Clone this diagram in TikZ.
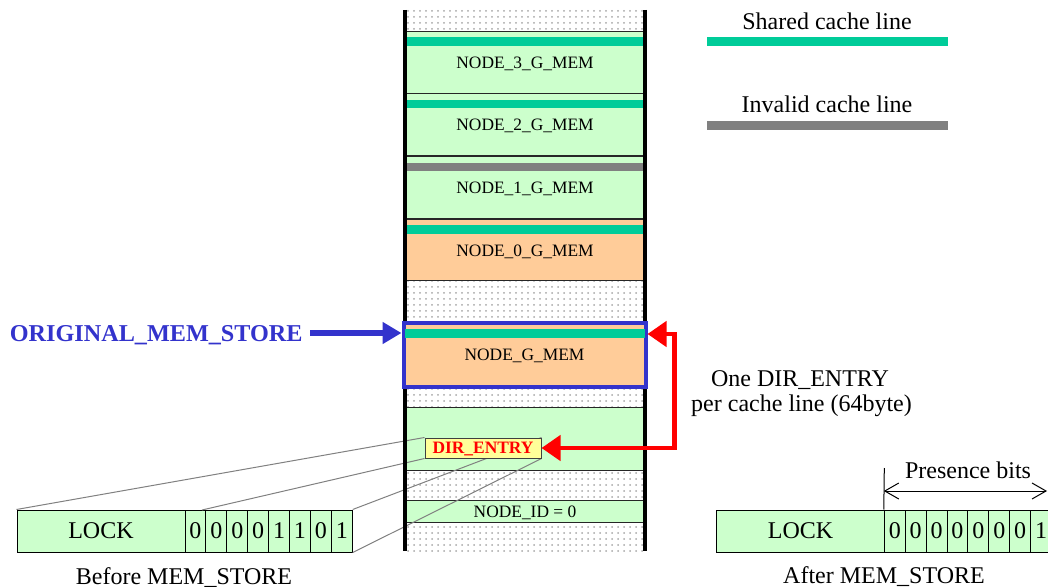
\documentclass[tikz,border=0pt]{standalone}
\usepackage{fontspec}
\setmainfont{Liberation Serif}
\usetikzlibrary{patterns,arrows.meta}
\definecolor{lgreen}{HTML}{CCFFCC}
\definecolor{peach}{HTML}{FFCC99}
\definecolor{shared}{HTML}{00CC99}
\definecolor{invalid}{HTML}{808080}
\definecolor{oblue}{HTML}{3333CC}
\definecolor{yel}{HTML}{FFFF99}
\definecolor{dirred}{HTML}{FF0000}
\begin{document}
\begin{tikzpicture}[x=0.5pt,y=-0.5pt,
  big/.style={font=\fontsize{12}{14}\selectfont},
  small/.style={font=\fontsize{8.7}{10}\selectfont},
  memblk/.style={draw=black!85, line width=0.5pt, minimum width=120pt, inner sep=0pt, text depth=0pt, small},
  cstrip/.style={fill=#1, draw=none, minimum width=120pt, inner sep=0pt},
  bit/.style={draw=black, line width=0.5pt, fill=lgreen, minimum width=10.45pt, minimum height=21pt, inner sep=0pt, big},
  lockbox/.style={draw=black, line width=0.5pt, fill=lgreen, minimum width=84pt, minimum height=21pt, inner sep=0pt, big},
  direntry/.style={draw=black!75, line width=0.5pt, fill=yel, minimum width=58pt, minimum height=10pt, inner sep=0pt, text depth=0pt, text=dirred, font=\fontsize{8.7}{10}\selectfont\bfseries},
  column/.style={line width=2pt, black},
  persp/.style={draw=invalid, line width=0.5pt},
  redarrow/.style={draw=dirred, line width=2.2pt, {Triangle[length=9.5pt,width=12.5pt]}-{Triangle[length=9.5pt,width=12.5pt]}},
  bluearrow/.style={draw=oblue, line width=2.6pt, -{Triangle[length=9.5pt,width=10.5pt]}},
  dimarrow/.style={draw=black, line width=0.5pt, {Straight Barb[length=7pt,width=8pt]}-{Straight Barb[length=7pt,width=8pt]}}
]
\useasboundingbox (0,0) rectangle (1048,587);
\clip (0,0) rectangle (1048,587);

% dotted background of the memory column
\fill[pattern=dots, pattern color=black!35] (405,10) rectangle (645,551);

% memory blocks
\node[memblk, fill=lgreen, minimum height=31.25pt] (n3) at (525,62.5) {NODE\_3\_G\_MEM};
\node[memblk, fill=lgreen, minimum height=31pt] (n2) at (525,125) {NODE\_2\_G\_MEM};
\node[memblk, fill=lgreen, minimum height=31pt] (n1) at (525,187.5) {NODE\_1\_G\_MEM};
\node[memblk, fill=peach, minimum height=30.75pt] (n0) at (525,250.25) {NODE\_0\_G\_MEM};
\node[memblk, fill=lgreen, minimum height=31.5pt] (dirarea) at (525,438.5) {};
\node[memblk, fill=lgreen, minimum height=11pt] (nodeid) at (525,511.5) {NODE\_ID = 0};

% cache line strips
\node[cstrip=shared, minimum height=4.5pt] (s3) at (525,41.5) {};
\node[cstrip=shared, minimum height=4pt] (s2) at (525,104) {};
\node[cstrip=invalid, minimum height=4pt] (s1) at (525,167) {};
\node[cstrip=shared, minimum height=4.5pt] (s0) at (525,229.5) {};

% before bits
\node[lockbox] (lockb) at (101,531) {LOCK};
\foreach \v [count=\i] in {0,0,0,0,1,1,0,1}
  \node[bit] (bb\i) at ({185+20.9*(\i-0.5)},531) {\v};
\node[big, anchor=base] (beforetxt) at (184,584) {Before MEM\_STORE};

% after bits
\node[lockbox] (locka) at (800.5,531) {LOCK};
\foreach \v [count=\i] in {0,0,0,0,0,0,0,1}
  \node[bit] (ab\i) at ({884.3+20.9*(\i-0.5)},531) {\v};
\node[big, anchor=base] (aftertxt) at (884,583.5) {After MEM\_STORE};

% DIR_ENTRY and perspective lines
\node[direntry] (dir) at (483,448) {DIR\_ENTRY};
\coordinate (c2) at (202,510);
\draw[persp] (dir.north west) -- (lockb.north west);
\draw[persp] (dir.south west) -- (c2);
\draw[persp] (dir.north east) -- (bb8.north east);
\draw[persp] (dir.south east) -- (bb8.south east);
\node[direntry] (dirtop) at (dir) {DIR\_ENTRY};

% column walls
\draw[column] (405,10) -- (405,551);
\draw[column] (645,10) -- (645,551);

% original store block
\node[draw=oblue, line width=2pt, fill=peach, minimum width=121pt, minimum height=32pt, inner sep=0pt, text depth=0pt, small] (gmem) at (524.5,355) {NODE\_G\_MEM};
\node[cstrip=shared, minimum height=4.5pt] (sg) at (525,333.5) {};

% ORIGINAL_MEM_STORE label and arrow
\node[anchor=east, inner xsep=3.5pt, inner ysep=0pt, text depth=0pt, text=oblue, font=\fontsize{12.1}{14}\selectfont\bfseries] (orig) at (310,333) {ORIGINAL\_MEM\_STORE};
\draw[bluearrow] (orig.east) -- (orig.east -| gmem.west);

% red double arrow
\coordinate (rc) at (674.5,334);
\draw[redarrow] (dir.east) -| (rc) -- (rc -| gmem.east);
\node[big, anchor=base] (one) at (800,386.5) {One DIR\_ENTRY};
\node[big, anchor=base] (per) at (801.5,411.7) {per cache line (64byte)};

% presence bits
\coordinate (ptop) at (884.3,468);
\coordinate (pend) at (1047,491);
\draw[line width=0.5pt] (ptop) -- (ab1.north west);
\draw[dimarrow] (ab1.north west |- pend) -- (pend);
\node[big, anchor=base] (prestxt) at (968,478) {Presence bits};

% legend
\node[big, anchor=base] (sharedtxt) at (827,30) {Shared cache line};
\node[cstrip=shared, minimum width=120.5pt, minimum height=4.5pt] (sharedbar) at (827.5,41.5) {};
\node[big, anchor=base] (invtxt) at (827,112.5) {Invalid cache line};
\node[cstrip=invalid, minimum width=120.5pt, minimum height=4.5pt] (invbar) at (827.5,125.5) {};
\end{tikzpicture}
\end{document}
